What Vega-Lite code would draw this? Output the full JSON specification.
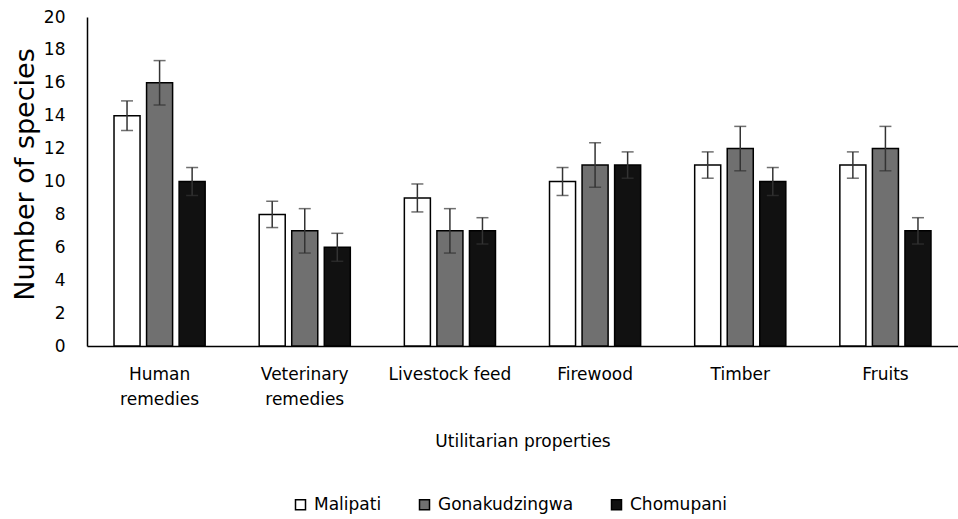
{
  "$schema": "https://vega.github.io/schema/vega-lite/v6.json",
  "width": 871,
  "height": 329,
  "autosize": "none",
  "padding": {"left": 87, "top": 17, "right": 0, "bottom": 173},
  "background": "white",
  "config": {
    "view": {"stroke": null},
    "font": "DejaVu Sans",
    "axisY": {
      "values": [0, 2, 4, 6, 8, 10, 12, 14, 16, 18, 20],
      "labelOverlap": false,
      "titleFontSize": 27,
      "titleFontWeight": "normal",
      "titleColor": "black",
      "titlePadding": 4,
      "titleY": 157,
      "labelFontSize": 17,
      "labelColor": "black",
      "labelPadding": 22,
      "ticks": false,
      "domainColor": "black",
      "domainWidth": 1.5,
      "grid": false
    }
  },
  "data": {
    "values": [
      {"category": "Human remedies", "site": "Malipati", "value": 14, "lo": 13.1, "hi": 14.9},
      {"category": "Human remedies", "site": "Gonakudzingwa", "value": 16, "lo": 14.65, "hi": 17.35},
      {"category": "Human remedies", "site": "Chomupani", "value": 10, "lo": 9.15, "hi": 10.85},
      {"category": "Veterinary remedies", "site": "Malipati", "value": 8, "lo": 7.2, "hi": 8.8},
      {"category": "Veterinary remedies", "site": "Gonakudzingwa", "value": 7, "lo": 5.65, "hi": 8.35},
      {"category": "Veterinary remedies", "site": "Chomupani", "value": 6, "lo": 5.15, "hi": 6.85},
      {"category": "Livestock feed", "site": "Malipati", "value": 9, "lo": 8.15, "hi": 9.85},
      {"category": "Livestock feed", "site": "Gonakudzingwa", "value": 7, "lo": 5.65, "hi": 8.35},
      {"category": "Livestock feed", "site": "Chomupani", "value": 7, "lo": 6.2, "hi": 7.8},
      {"category": "Firewood", "site": "Malipati", "value": 10, "lo": 9.15, "hi": 10.85},
      {"category": "Firewood", "site": "Gonakudzingwa", "value": 11, "lo": 9.65, "hi": 12.35},
      {"category": "Firewood", "site": "Chomupani", "value": 11, "lo": 10.2, "hi": 11.8},
      {"category": "Timber", "site": "Malipati", "value": 11, "lo": 10.2, "hi": 11.8},
      {"category": "Timber", "site": "Gonakudzingwa", "value": 12, "lo": 10.65, "hi": 13.35},
      {"category": "Timber", "site": "Chomupani", "value": 10, "lo": 9.15, "hi": 10.85},
      {"category": "Fruits", "site": "Malipati", "value": 11, "lo": 10.2, "hi": 11.8},
      {"category": "Fruits", "site": "Gonakudzingwa", "value": 12, "lo": 10.65, "hi": 13.35},
      {"category": "Fruits", "site": "Chomupani", "value": 7, "lo": 6.2, "hi": 7.8}
    ]
  },
  "encoding": {
    "x": {
      "field": "category",
      "type": "nominal",
      "sort": ["Human remedies", "Veterinary remedies", "Livestock feed", "Firewood", "Timber", "Fruits"],
      "scale": {"paddingInner": 0, "paddingOuter": 0},
      "axis": {
        "title": "Utilitarian properties",
        "titleFontSize": 17,
        "titleFontWeight": "normal",
        "titleColor": "black",
        "titlePadding": 26,
        "labelFontSize": 17,
        "labelColor": "black",
        "labelAngle": 0,
        "labelPadding": 20,
        "labelLineHeight": 25,
        "labelExpr": "indexof(datum.label,'remedies')>0 ? split(datum.label,' ') : datum.label",
        "ticks": false,
        "domainColor": "black",
        "domainWidth": 1.5,
        "grid": false
      }
    },
    "xOffset": {
      "field": "site",
      "type": "nominal",
      "sort": ["Malipati", "Gonakudzingwa", "Chomupani"],
      "scale": {"paddingInner": 0.2, "paddingOuter": 0.83}
    }
  },
  "layer": [
    {
      "mark": {"type": "bar", "stroke": "black", "strokeWidth": 1.5},
      "encoding": {
        "y": {
          "field": "value",
          "type": "quantitative",
          "title": "Number of species",
          "scale": {"domain": [0, 20], "nice": false}
        },
        "fill": {
          "field": "site",
          "type": "nominal",
          "sort": ["Malipati", "Gonakudzingwa", "Chomupani"],
          "scale": {"domain": ["Malipati", "Gonakudzingwa", "Chomupani"], "range": ["#ffffff", "#707070", "#111111"]},
          "legend": {
            "orient": "none",
            "legendX": 205,
            "legendY": 479,
            "direction": "horizontal",
            "title": null,
            "symbolType": "square",
            "symbolSize": 100,
            "symbolStrokeColor": "black",
            "symbolStrokeWidth": 1.5,
            "labelFontSize": 17,
            "labelColor": "black",
            "labelOffset": 5,
            "columnPadding": 34,
            "padding": 0
          }
        }
      }
    },
    {
      "mark": {"type": "rule", "color": "#333333", "strokeWidth": 1.5},
      "encoding": {
        "y": {"field": "lo", "type": "quantitative", "title": "Number of species"},
        "y2": {"field": "hi"}
      }
    },
    {
      "mark": {"type": "tick", "color": "#333333", "thickness": 1.5, "size": 12},
      "encoding": {
        "y": {"field": "lo", "type": "quantitative", "title": "Number of species"}
      }
    },
    {
      "mark": {"type": "tick", "color": "#333333", "thickness": 1.5, "size": 12},
      "encoding": {
        "y": {"field": "hi", "type": "quantitative", "title": "Number of species"}
      }
    }
  ]
}
